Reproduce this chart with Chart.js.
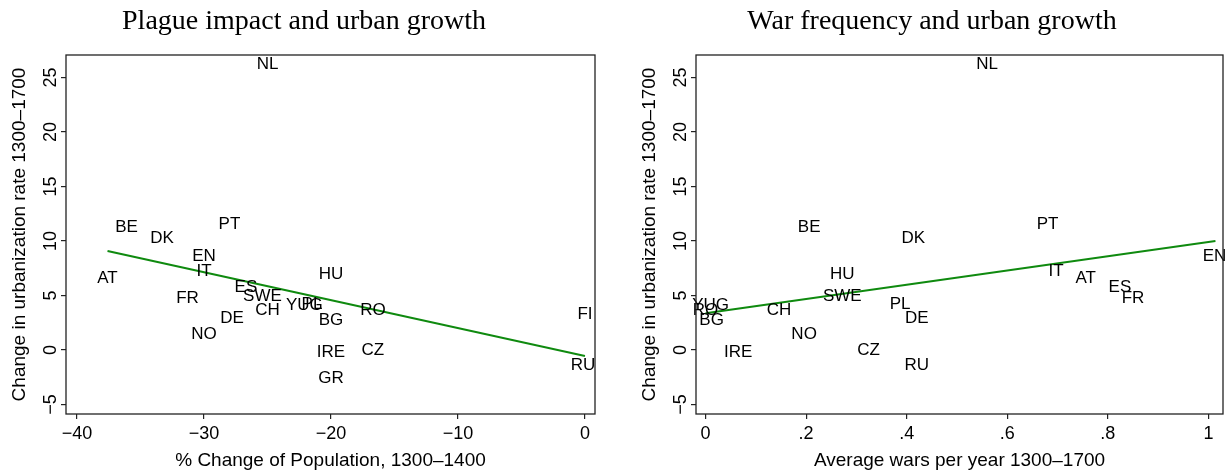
<!DOCTYPE html>
<html><head><meta charset="utf-8">
<script src="https://cdn.jsdelivr.net/npm/chart.js@4.4.1/dist/chart.umd.min.js"></script>
<style>
html,body{margin:0;padding:0;background:#fff;}
#wrap{position:relative;width:1225px;height:472px;overflow:hidden;background:#fff;}
canvas{position:absolute;top:0;}
</style></head><body>
<div id="wrap">
<canvas id="c1" width="612" height="472" style="left:0px"></canvas>
<canvas id="c2" width="595" height="472" style="left:630px"></canvas>
</div>
<script>
// ---- data ----
const countries    = ['NL','BE','DK','PT','EN','IT','AT','ES','SWE','FR','CH','YUG','PL','HU','BG','RO','DE','NO','IRE','CZ','GR','FI','RU'];
const urbChange    = [26.2, 11.3, 10.2, 11.5, 8.6, 7.2, 6.6, 5.75, 4.9, 4.7, 3.6, 4.1, 4.2, 6.9, 2.75, 3.6, 2.9, 1.45, -0.2, 0.0, -2.6, 3.3, -1.4];
const plagueChange = [-25.0, -36.1, -33.3, -28.0, -30.0, -30.0, -37.6, -26.7, -25.4, -31.3, -25.0, -22.1, -21.5, -20.0, -20.0, -16.7, -27.8, -30.0, -20.0, -16.7, -20.0, 0.0, -0.15];
const warsPerYear  = [0.56, 0.206, 0.413, 0.68, 1.012, 0.697, 0.756, 0.824, 0.272, 0.85, 0.146, 0.01, 0.387, 0.272, 0.012, 0.0, 0.42, 0.196, 0.065, 0.324, null, null, 0.42];

const plagueFitX = [-37.6, 0];
const plagueFitY = [9.08, -0.55];
const warsFitX   = [0, 1.014];
const warsFitY   = [3.37, 10.0];

const urbTicks = [-5, 0, 5, 10, 15, 20, 25];
const urbTickLabels = ['\u22125', '0', '5', '10', '15', '20', '25'];
const plagueTicks = [-40, -30, -20, -10, 0];
const plagueTickLabels = ['\u221240', '\u221230', '\u221220', '\u221210', '0'];
const warsTicks = [0, 0.2, 0.4, 0.6, 0.8, 1];
const warsTickLabels = ['0', '.2', '.4', '.6', '.8', '1'];

const SANS = '"Liberation Sans", Arial, Helvetica, sans-serif';
const SERIF = '"Liberation Serif", "Times New Roman", Times, serif';
const GREEN = '#0f8a0f';
const AXIS = '#222';

const panelPlugin = {
  id: 'panel',
  afterDatasetsDraw(chart, args, opts) {
    const ctx = chart.ctx;
    const meta = chart.getDatasetMeta(0);
    const names = chart.data.datasets[0].names;
    ctx.save();
    ctx.fillStyle = '#000';
    ctx.font = '17px ' + SANS;
    ctx.textAlign = 'center';
    ctx.textBaseline = 'middle';
    meta.data.forEach((el, i) => { ctx.fillText(names[i], el.x, el.y); });
    ctx.restore();
  },
  afterDraw(chart, args, opts) {
    const ctx = chart.ctx, a = chart.chartArea;
    ctx.save();
    ctx.strokeStyle = AXIS;
    ctx.lineWidth = 1.3;
    ctx.strokeRect(a.left, a.top, a.right - a.left, a.bottom - a.top);
    const ys = chart.scales.y;
    ctx.fillStyle = '#000';
    ctx.font = '18px ' + SANS;
    ctx.textAlign = 'center';
    ctx.textBaseline = 'middle';
    ys.ticks.forEach((t) => {
      const py = ys.getPixelForValue(t.value);
      const lab = urbTickLabels[urbTicks.indexOf(t.value)];
      ctx.save();
      ctx.translate(a.left - 15, py);
      ctx.rotate(-Math.PI / 2);
      ctx.fillText(lab, 0, 0);
      ctx.restore();
    });
    ctx.font = '28px ' + SERIF;
    ctx.textBaseline = 'alphabetic';
    ctx.fillText(opts.title, opts.titleX, 29);
    ctx.restore();
  }
};

function makePanel(id, cfg) {
  const pts = [], names = [];
  countries.forEach((c, i) => {
    if (cfg.xVals[i] !== null) { pts.push({x: cfg.xVals[i], y: urbChange[i]}); names.push(c); }
  });
  const fit = cfg.fitX.map((x, i) => ({x: x, y: cfg.fitY[i]}));
  new Chart(document.getElementById(id), {
    type: 'scatter',
    data: {
      datasets: [
        {type: 'scatter', data: pts, names: names, pointRadius: 0, pointHoverRadius: 0},
        {type: 'line', data: fit, borderColor: GREEN, borderWidth: 2, pointRadius: 0, fill: false, tension: 0}
      ]
    },
    options: {
      responsive: false,
      animation: false,
      events: [],
      layout: {padding: {top: 55, right: cfg.padRight, left: 0, bottom: 0}},
      plugins: {
        legend: {display: false},
        tooltip: {enabled: false},
        panel: {title: cfg.title, titleX: cfg.titleX}
      },
      scales: {
        x: {
          type: 'linear', min: cfg.xMin, max: cfg.xMax,
          afterBuildTicks: s => { s.ticks = cfg.xTicks.map(v => ({value: v})); },
          afterFit: s => { s.height = 58; },
          ticks: {
            autoSkip: false, maxRotation: 0, minRotation: 0, padding: 4,
            color: '#000', font: {family: SANS, size: 18},
            callback: (v) => cfg.xTickLabels[cfg.xTicks.indexOf(v)]
          },
          grid: {drawOnChartArea: false, drawTicks: true, tickLength: 5, color: AXIS, lineWidth: 1.2},
          border: {display: false},
          title: {display: true, text: cfg.xTitle, color: '#000', font: {family: SANS, size: 19}, padding: {top: 0, bottom: 0}}
        },
        y: {
          type: 'linear', min: -5.87, max: 27.06,
          afterBuildTicks: s => { s.ticks = urbTicks.map(v => ({value: v})); },
          afterFit: s => { s.width = 66; },
          ticks: {display: false},
          grid: {drawOnChartArea: false, drawTicks: true, tickLength: 5, color: AXIS, lineWidth: 1.2},
          border: {display: false},
          title: {display: true, text: 'Change in urbanization rate 1300\u20131700', color: '#000', font: {family: SANS, size: 19}, padding: {top: 8.5, bottom: 0}}
        }
      }
    },
    plugins: [panelPlugin]
  });
}

makePanel('c1', {
  xVals: plagueChange, xMin: -40.87, xMax: 0.79,
  xTicks: plagueTicks, xTickLabels: plagueTickLabels,
  xTitle: '% Change of Population, 1300\u20131400',
  fitX: plagueFitX, fitY: plagueFitY,
  title: 'Plague impact and urban growth', titleX: 304, padRight: 17
});
makePanel('c2', {
  xVals: warsPerYear, xMin: -0.019, xMax: 1.029,
  xTicks: warsTicks, xTickLabels: warsTickLabels,
  xTitle: 'Average wars per year 1300\u20131700',
  fitX: warsFitX, fitY: warsFitY,
  title: 'War frequency and urban growth', titleX: 302, padRight: 2
});
</script>
</body></html>
